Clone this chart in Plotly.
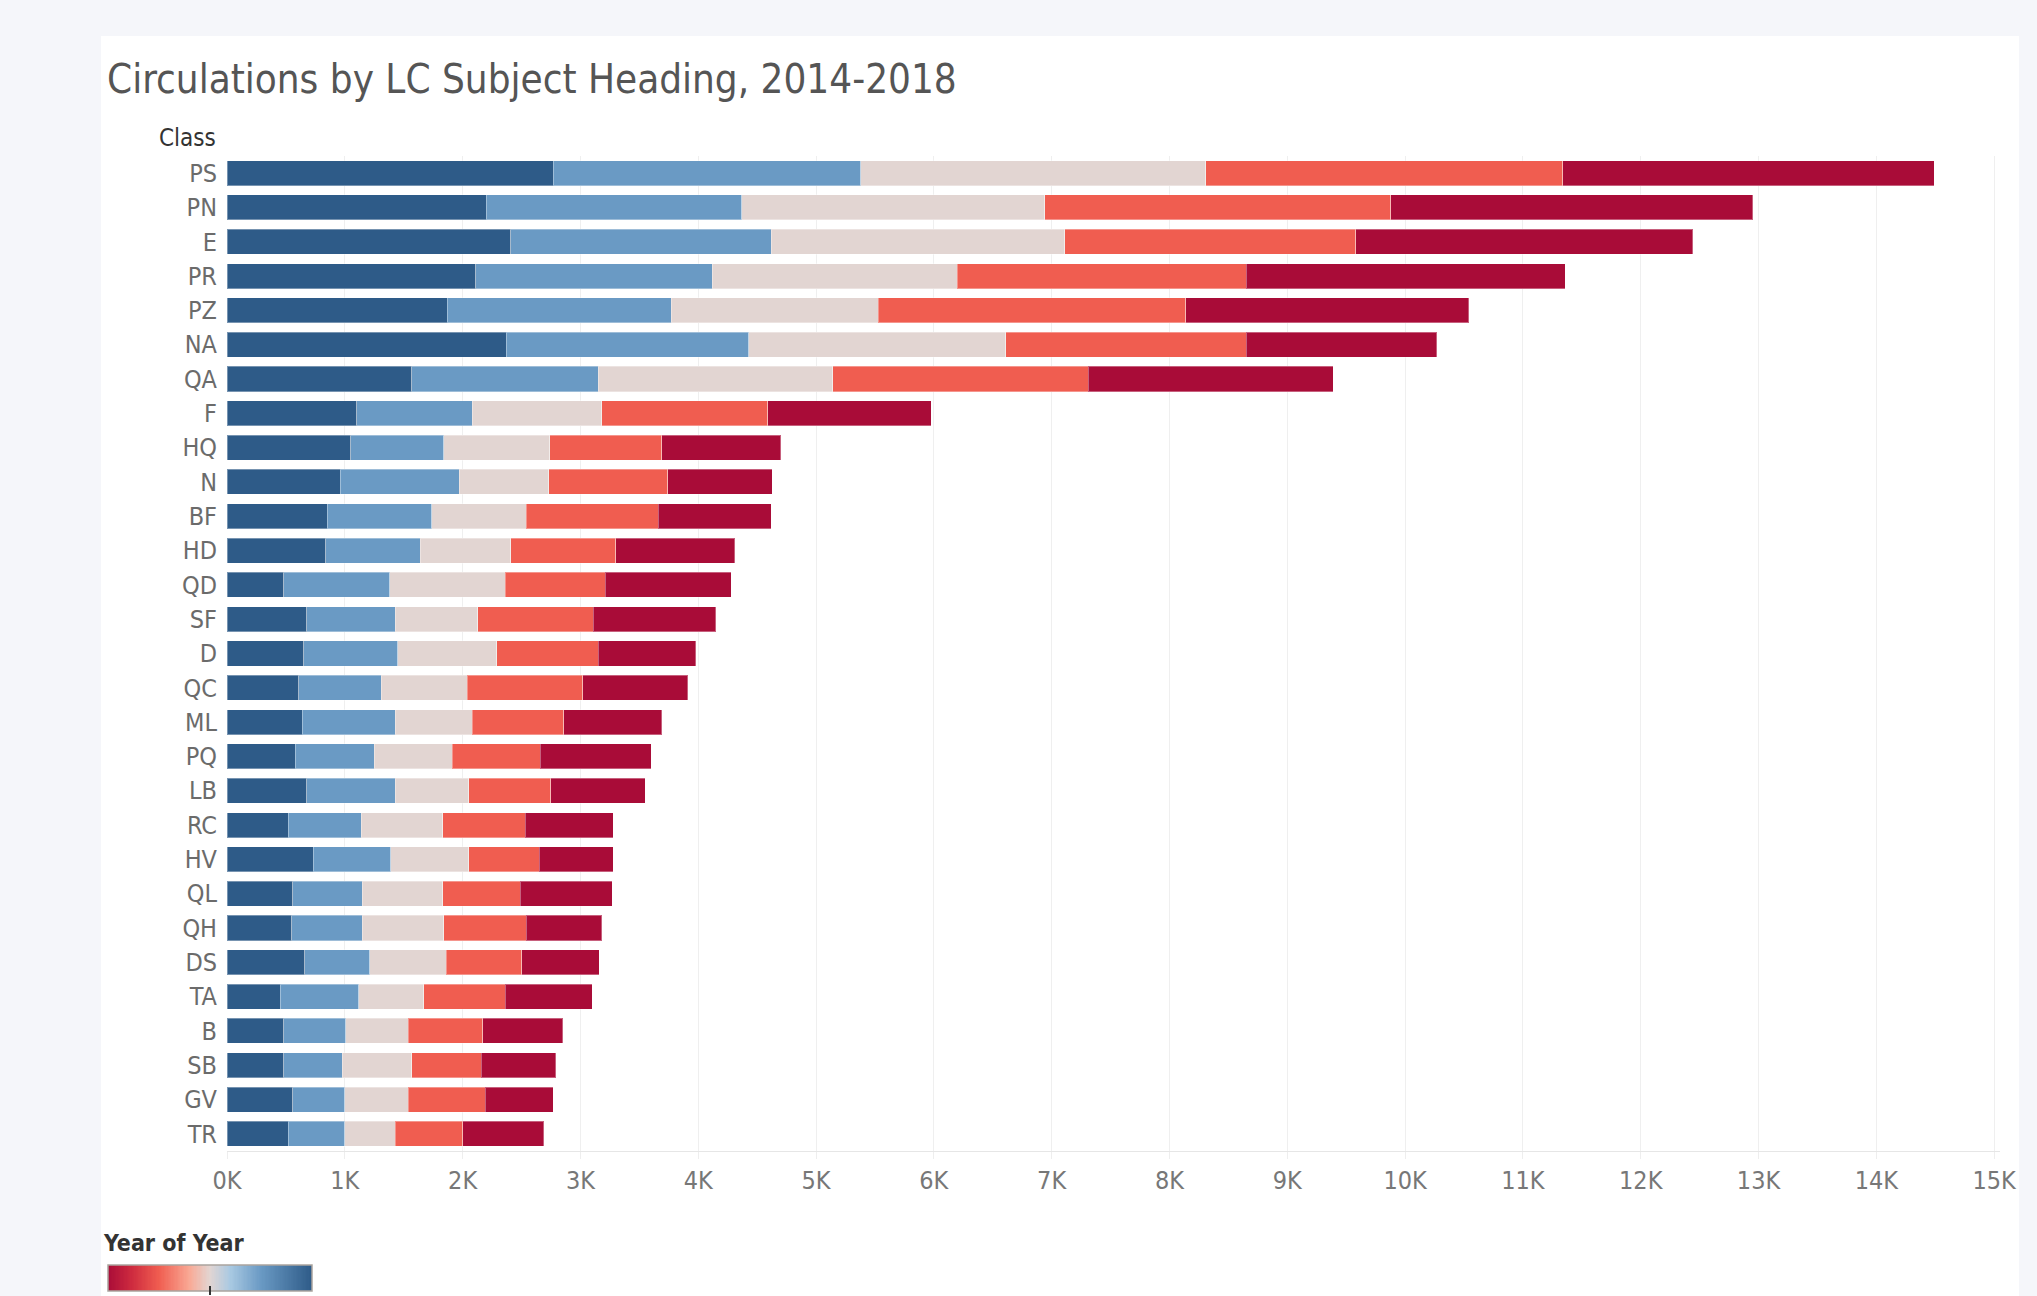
import plotly.graph_objects as go

# ---------------- data ----------------
classes = ["PS", "PN", "E", "PR", "PZ", "NA", "QA", "F", "HQ", "N", "BF", "HD", "QD", "SF",
           "D", "QC", "ML", "PQ", "LB", "RC", "HV", "QL", "QH", "DS", "TA", "B", "SB", "GV", "TR"]

years = [2018, 2017, 2016, 2015, 2014]

circ_2018 = [2770, 2200, 2410, 2110, 1870, 2370, 1570, 1100, 1050, 960, 850, 840, 480, 675,
             650, 610, 640, 580, 675, 520, 730, 560, 550, 660, 450, 480, 480, 560, 520]
circ_2017 = [2610, 2170, 2210, 2010, 1900, 2060, 1580, 980, 790, 1010, 890, 800, 900, 755,
             800, 700, 790, 670, 755, 620, 660, 590, 600, 550, 670, 530, 500, 440, 480]
circ_2016 = [2930, 2570, 2490, 2080, 1760, 2180, 1990, 1100, 900, 760, 800, 770, 980, 700,
             840, 730, 650, 660, 620, 690, 660, 680, 690, 650, 550, 530, 590, 540, 430]
circ_2015 = [3030, 2940, 2470, 2450, 2610, 2040, 2170, 1410, 950, 1010, 1120, 890, 850, 980,
             860, 980, 780, 750, 700, 700, 600, 660, 700, 640, 690, 630, 590, 650, 570]
circ_2014 = [3150, 3070, 2860, 2710, 2400, 1620, 2080, 1390, 1010, 890, 960, 1010, 1070, 1040,
             830, 890, 830, 940, 800, 750, 630, 780, 640, 660, 740, 680, 630, 580, 690]

series = [circ_2018, circ_2017, circ_2016, circ_2015, circ_2014]

x_tick_vals = [0, 1000, 2000, 3000, 4000, 5000, 6000, 7000, 8000, 9000, 10000, 11000, 12000, 13000, 14000, 15000]
x_tick_text = ["0K", "1K", "2K", "3K", "4K", "5K", "6K", "7K", "8K", "9K", "10K", "11K", "12K", "13K", "14K", "15K"]

title_text = "Circulations by LC Subject Heading, 2014-2018"
legend_title = "Year of Year"
row_header = "Class"

# ---------------- style ----------------
W, H = 2037, 1296

def px(xp):
    return xp / W

def py(yp):
    return 1 - yp / H

FONT = "DejaVu Sans Condensed, Liberation Sans Narrow, sans-serif"

colorscale = [
    [0.0, "#a90c38"],
    [0.12, "#cf2c3f"],
    [0.25, "#f05d50"],
    [0.40, "#f9a995"],
    [0.5, "#e2d5d2"],
    [0.60, "#a9c9e2"],
    [0.75, "#6a9ac4"],
    [1.0, "#2e5b88"],
]
y_min, y_max = min(years), max(years)

fig = go.Figure()
for yr, vals in zip(years, series):
    fig.add_trace(go.Bar(
        y=classes,
        x=vals,
        name=str(yr),
        orientation="h",
        marker=dict(
            color=[yr] * len(vals),
            coloraxis="coloraxis",
            line=dict(color="rgba(255,255,255,0.35)", width=1),
        ),
        width=0.73,
        hovertemplate="%{y} " + str(yr) + ": %{x}<extra></extra>",
    ))

# continuous colour legend ramp (Year of Year)
n_steps = 160
ramp = [y_min + (y_max - y_min) * i / (n_steps - 1) for i in range(n_steps)]
fig.add_trace(go.Heatmap(
    z=[ramp], x=ramp, y=[0],
    colorscale=colorscale, zmin=y_min, zmax=y_max,
    showscale=False, hoverinfo="skip",
    xaxis="x2", yaxis="y2",
))

plot_x0, plot_x1 = 227, 2000
plot_y0, plot_y1 = 156, 1151

fig.update_layout(
    width=W, height=H,
    autosize=False,
    barmode="stack",
    bargap=0.27,
    showlegend=False,
    paper_bgcolor="#f5f6fa",
    plot_bgcolor="#ffffff",
    margin=dict(l=0, r=0, t=0, b=0, pad=0, autoexpand=False),
    font=dict(family=FONT, color="#6b6b6b", size=26),
    title=dict(
        text=title_text,
        x=107 / W, xanchor="left", xref="container",
        y=1 - 79 / H, yanchor="middle", yref="container",
        font=dict(family=FONT, size=40, color="#555555"),
    ),
    coloraxis=dict(
        colorscale=colorscale,
        cmin=y_min, cmax=y_max,
        showscale=False,
    ),
    xaxis=dict(
        domain=[px(plot_x0), px(plot_x1)],
        range=[0, 15050],
        tickvals=x_tick_vals,
        ticktext=x_tick_text,
        showgrid=True, gridcolor="#efefef", gridwidth=1,
        zeroline=False,
        showline=True, linecolor="#e6e6e6", linewidth=1,
        ticks="outside", ticklen=7, tickcolor="#eeeeee",
        ticklabelstandoff=0,
        tickfont=dict(family=FONT, size=25, color="#777777"),
        automargin=False,
        fixedrange=True,
    ),
    yaxis=dict(
        domain=[py(plot_y1), py(plot_y0)],
        autorange="reversed",
        showgrid=False, zeroline=False,
        ticks="",
        ticklabelstandoff=9,
        tickfont=dict(family=FONT, size=25, color="#6b6b6b"),
        automargin=False,
        fixedrange=True,
    ),
    xaxis2=dict(
        domain=[px(108), px(312)],
        anchor="y2",
        range=[ramp[0], ramp[-1]],
        visible=False, fixedrange=True, automargin=False,
    ),
    yaxis2=dict(
        domain=[py(1291), py(1265)],
        anchor="x2",
        range=[-0.5, 0.5],
        visible=False, fixedrange=True, automargin=False,
    ),
    shapes=[
        dict(type="rect", xref="paper", yref="paper",
             x0=px(101), x1=px(2019), y0=0, y1=py(36),
             fillcolor="#ffffff", line=dict(width=0), layer="below"),
        dict(type="rect", xref="x2 domain", yref="y2 domain",
             x0=0, x1=1, y0=0, y1=1,
             fillcolor="rgba(0,0,0,0)", line=dict(color="#aaa49e", width=1.5), layer="above"),
        dict(type="line", xref="paper", yref="paper",
             x0=px(210), x1=px(210), y0=py(1286), y1=py(1295),
             line=dict(color="#333333", width=2), layer="above"),
    ],
    annotations=[
        dict(text=row_header, xref="paper", yref="paper",
             x=px(218), y=py(138), xanchor="right", yanchor="middle",
             showarrow=False, font=dict(family=FONT, size=24, color="#333333")),
        dict(text=legend_title, xref="paper", yref="paper",
             x=px(101), y=py(1243), xanchor="left", yanchor="middle",
             showarrow=False, font=dict(family=FONT, size=23, color="#333333", weight="bold")),
    ],
)

fig.write_html("out.html")
